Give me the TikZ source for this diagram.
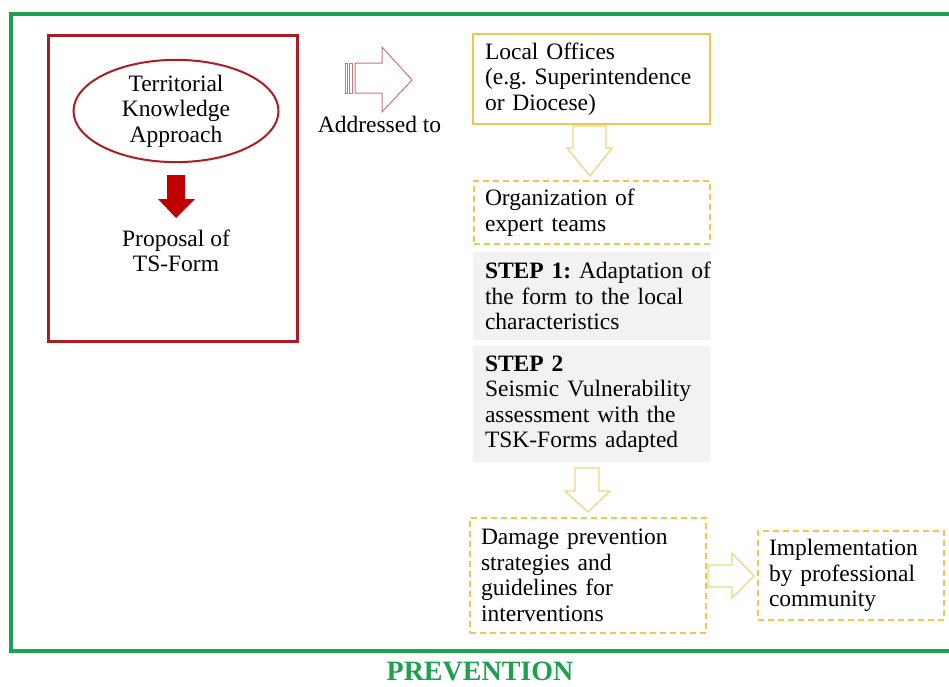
\documentclass[tikz,border=0pt]{standalone}
\usepackage{fontspec}
\setmainfont{Liberation Serif}
\frenchspacing
\usetikzlibrary{shapes.geometric}

\definecolor{framegreen}{RGB}{30,160,80}
\definecolor{boxred}{RGB}{172,28,36}
\definecolor{arrowred}{RGB}{192,0,0}
\definecolor{softred}{RGB}{196,120,122}
\definecolor{gold}{RGB}{240,198,80}
\definecolor{paleold}{RGB}{236,214,130}
\definecolor{stepgray}{RGB}{242,242,242}

\tikzset{
  body/.style={font=\fontsize{23.5}{25.5}\selectfont, text=black},
  solidbox/.style={body, draw=gold, line width=1.6pt, align=left, inner xsep=12pt, inner ysep=0pt},
  dashbox/.style={body, draw=gold, line width=1.8pt, dash pattern=on 6pt off 4pt, align=left, inner xsep=11pt, inner ysep=0pt},
  graybox/.style={body, fill=stepgray, align=left, inner xsep=12pt, inner ysep=0pt},
  hollowarrow/.style={draw=paleold, line width=1.3pt, fill=white, line join=miter},
  framestyle/.style={draw=framegreen, line width=4pt},
}

\begin{document}
\begin{tikzpicture}[x=1pt,y=-1pt]
\useasboundingbox (0,0) rectangle (949,686);
\clip (0,0) rectangle (949,686);

% outer frame, open to the right
\draw[framestyle] (955,14) -- (11,14) -- (11,651) -- (955,651);

% left panel
\node[draw=boxred, line width=3pt, minimum width=249pt, minimum height=306pt, inner sep=0pt] (panel) at (172.5,188) {};
\node[body, ellipse, draw=boxred, line width=2pt, minimum width=205pt, minimum height=102pt, align=center, inner sep=0pt] (tka) at (176,111) {Territorial\\Knowledge\\Approach};
\node[body, align=center] (proposal) at (176,251) {Proposal of\\TS-Form};
\fill[arrowred] (167,175) -- (185,175) -- (185,199) -- (195,199) -- (176,218) -- (158,199) -- (167,199) -- cycle;

% striped arrow towards the offices
\draw[softred, line width=0.9pt] (345,63) rectangle (347,93);
\draw[softred, line width=0.9pt] (349.5,63) rectangle (352,93);
\draw[softred, line width=1pt, line join=miter] (355,63) -- (382,63) -- (382,47) -- (412,80) -- (382,112) -- (382,93) -- (355,93) -- cycle;
\node[body] (addr) at (379.5,124) {Addressed to};

% right column
\node[solidbox, text width=213pt, minimum height=90pt] (loc) at (591.5,79)
  {Local Offices\\\mbox{(e.g. Superintendence}\\or Diocese)};
\node[dashbox, text width=214pt, minimum height=63pt] (org) at (592,212.5)
  {Organization of\\expert teams};
\node[graybox, text width=213pt, minimum height=88pt] (step1) at (591.5,296)
  {\mbox{\textbf{STEP 1:} Adaptation of}\\\mbox{the form to the local}\\characteristics};
\node[graybox, text width=213pt, minimum height=116pt] (step2) at (591.5,404)
  {\textbf{STEP 2}\\\mbox{Seismic Vulnerability}\\\mbox{assessment with the}\\\mbox{TSK-Forms adapted}};
\node[dashbox, text width=214pt, minimum height=115pt] (dmg) at (588,575.5)
  {\mbox{Damage prevention}\\strategies and\\guidelines for\\interventions};
\node[dashbox, text width=164pt, minimum height=89pt] (impl) at (851,575.5)
  {\mbox{Implementation}\\\mbox{by professional}\\community};

% block arrows between the steps
\draw[hollowarrow] (573,126) -- (606,126) -- (606,148) -- (612,148) -- (590,176) -- (567,148) -- (573,148) -- cycle;
\draw[hollowarrow] (575,468) -- (599,468) -- (599,491) -- (610,491) -- (588,512) -- (565,491) -- (575,491) -- cycle;
\draw[hollowarrow] (708,565) -- (732,565) -- (732,553) -- (754,576) -- (732,598) -- (732,587) -- (708,587) -- cycle;

% caption
\node[font=\fontsize{28}{30}\selectfont\bfseries, text=framegreen, inner sep=0pt, text depth=0pt, anchor=base] (title) at (480,680) {PREVENTION};
\end{tikzpicture}
\end{document}
